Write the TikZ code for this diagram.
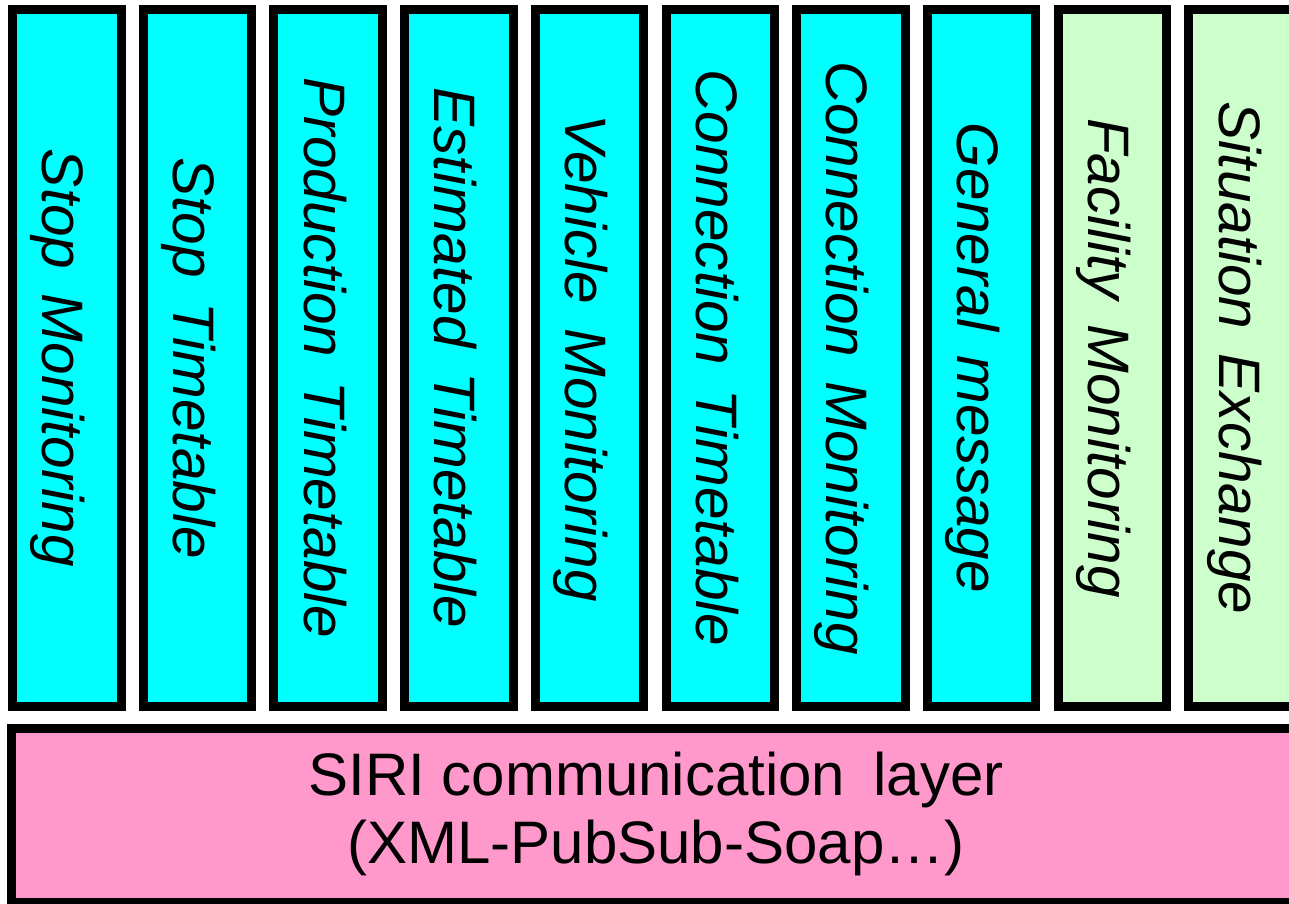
\documentclass[tikz,border=0pt]{standalone}
\usepackage{fontspec}
\setmainfont{Liberation Sans}
\definecolor{svccyan}{HTML}{00FFFF}
\definecolor{svcgreen}{HTML}{CCFFCC}
\definecolor{svcpink}{HTML}{FF99CC}
\newcommand\mywidespace[1]{\spaceskip=#1em plus 0pt minus 0pt\relax}
\tikzset{
  svcbox/.style={draw=black, line width=9pt, minimum width=108.5pt, minimum height=697pt, inner sep=0pt},
  svclbl/.style={rotate=-90, anchor=base, inner sep=0pt, font=\fontsize{58.5}{70}\selectfont\itshape},
  layerbox/.style={draw=black, line width=9pt, fill=svcpink, inner sep=0pt},
  layerlbl/.style={align=center, inner sep=0pt, font=\fontsize{60}{68}\selectfont}
}
\begin{document}
\begin{tikzpicture}[x=1pt,y=-1pt]
\useasboundingbox (0,0) rectangle (1289,903);
\clip (0,0) rectangle (1289,903);
\fill[white] (0,0) rectangle (1289,903);
\foreach \i/\t/\c in {0/Stop Monitoring/svccyan,1/Stop Timetable/svccyan,2/Production Timetable/svccyan,3/Estimated Timetable/svccyan,4/Vehicle Monitoring/svccyan,5/Connection Timetable/svccyan,6/Connection Monitoring/svccyan,7/General message/svccyan,8/Facility Monitoring/svcgreen,9/Situation Exchange/svcgreen}{
  \node[svcbox, fill=\c] (b\i) at ({8+130.7*\i+58.75},358) {};
  \node[svclbl] (t\i) at ([xshift=-24pt]b\i.center) {\mywidespace{0.42}\t};
}
\node[layerbox, minimum width=1284.5pt, minimum height=174pt] (layer) at (653.75,815.5) {};
\node[layerlbl] (layertxt) at (656,813.5) {SIRI communication\hspace{28pt}layer\\(XML-PubSub-Soap…)};
\end{tikzpicture}
\end{document}
